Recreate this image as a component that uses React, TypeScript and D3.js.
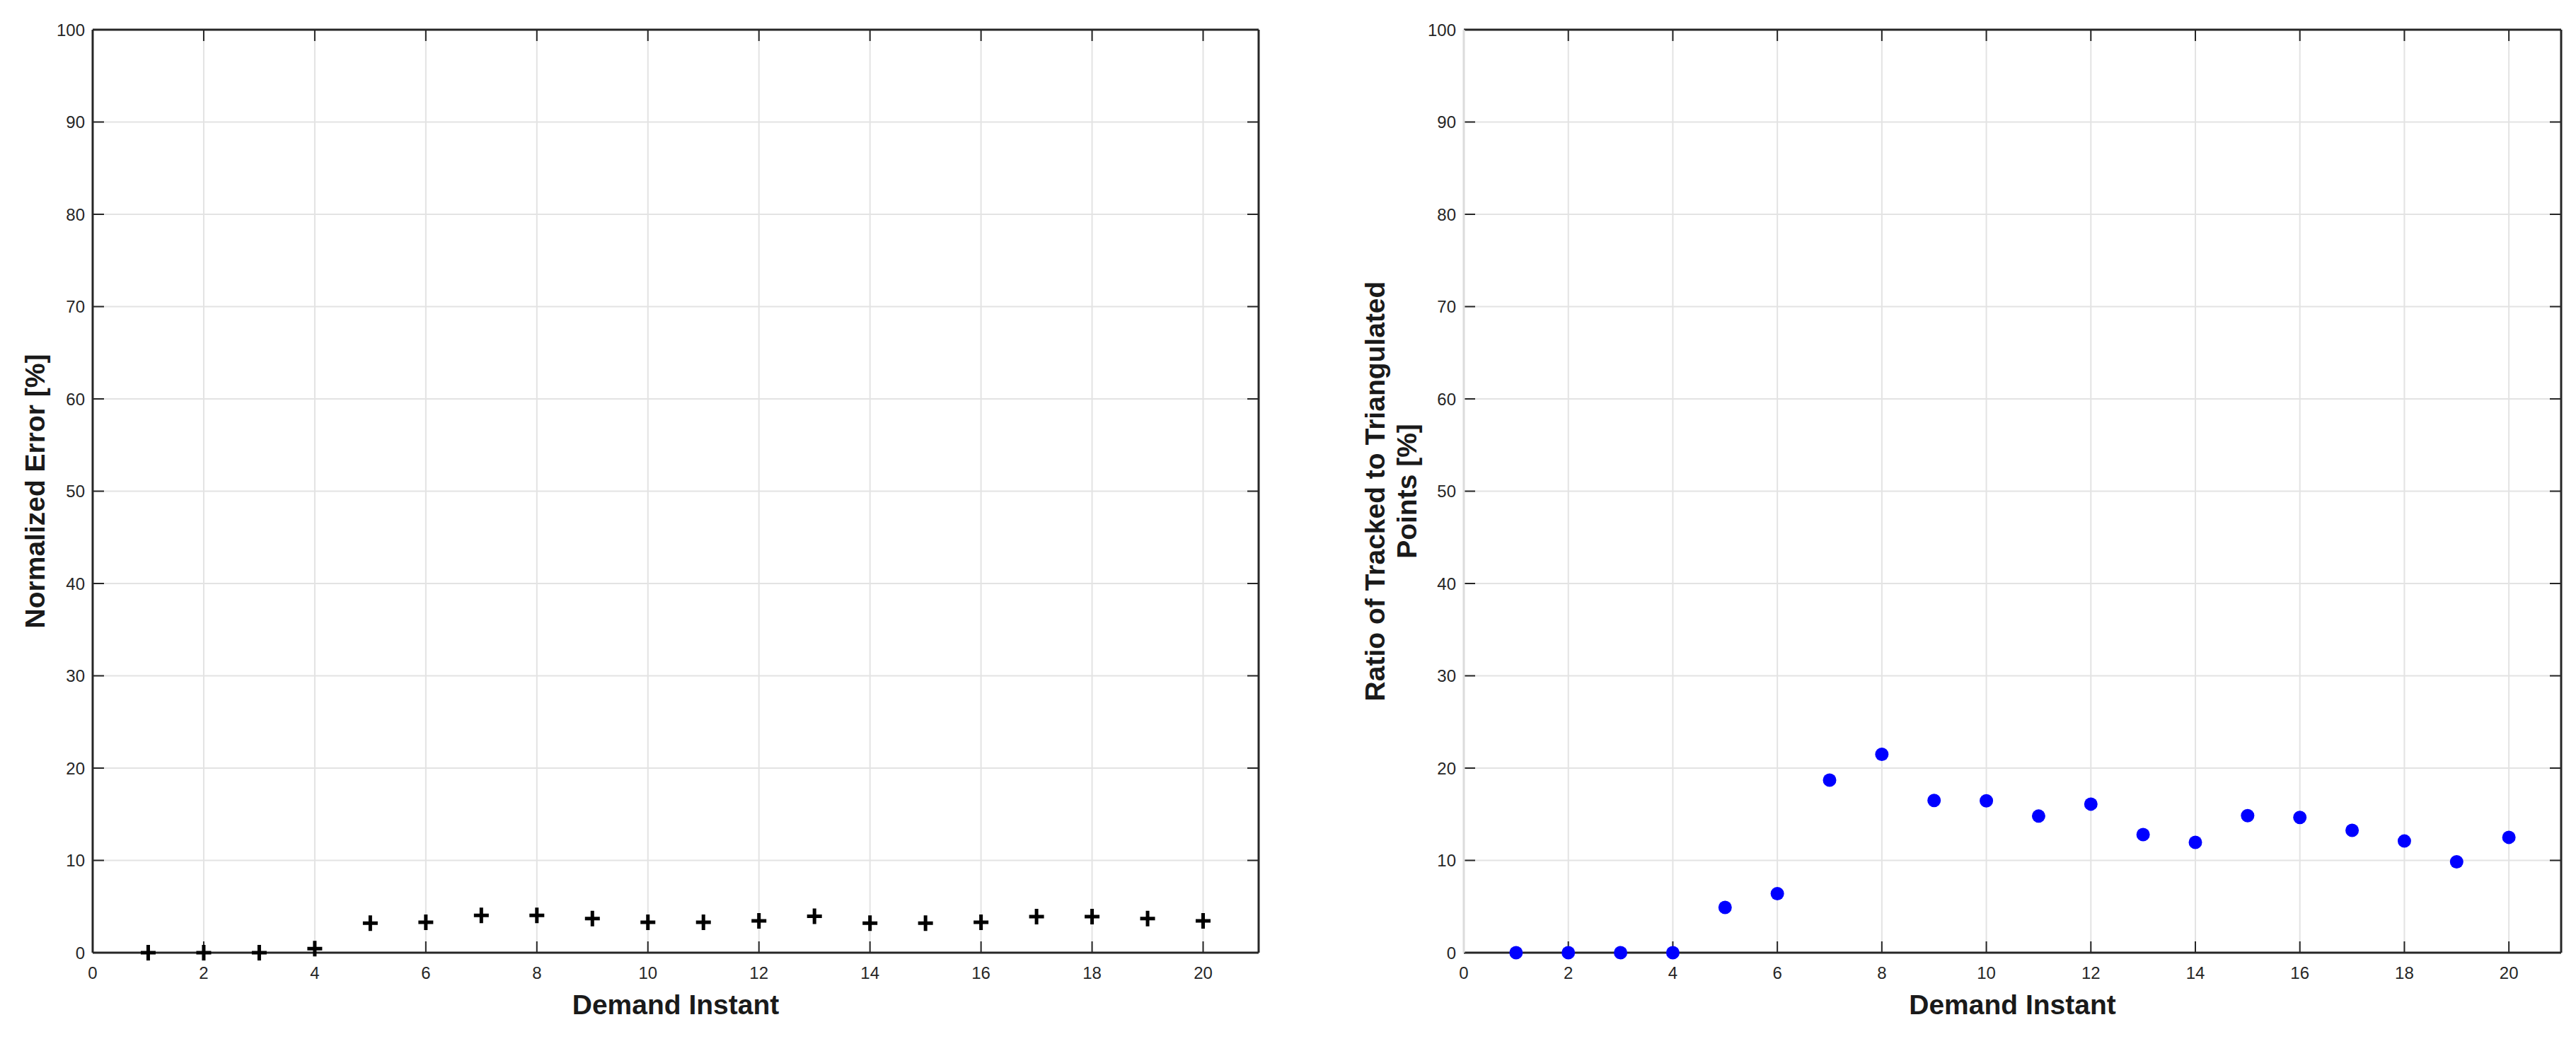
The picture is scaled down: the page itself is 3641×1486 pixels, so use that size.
import React from "react";
import * as d3 from "d3";

// demand instants 1..20
const instants = [1, 2, 3, 4, 5, 6, 7, 8, 9, 10, 11, 12, 13, 14, 15, 16, 17, 18, 19, 20];

// normalized error [%] (left panel, black plus markers)
const normalizedError = [0, 0, 0, 0.45, 3.2, 3.3, 4.05, 4.05, 3.7, 3.3, 3.3, 3.45, 3.95, 3.2, 3.2, 3.3, 3.9, 3.9, 3.7, 3.45];

// ratio of tracked to triangulated points [%] (right panel, blue dots)
const trackedRatio = [0, 0, 0, 0, 4.9, 6.4, 18.7, 21.5, 16.5, 16.45, 14.8, 16.1, 12.8, 11.95, 14.85, 14.65, 13.25, 12.1, 9.85, 12.5];

const xTicks = [0, 2, 4, 6, 8, 10, 12, 14, 16, 18, 20];
const yTicks = [0, 10, 20, 30, 40, 50, 60, 70, 80, 90, 100];

const W = 3641;
const H = 1486;
const TOP = 42;
const BOTTOM = 1347;
const FONT = "'Liberation Sans', Arial, Helvetica, sans-serif";
const AXIS = "#262626";
const GRID = "#e3e3e3";
const TICK_LEN = 16;

type PanelProps = {
  x0: number;
  x1: number;
  values: number[];
  marker: "plus" | "dot";
  yLabel: string[];
  yLabelX: number;
  leftAxisColor: string;
};

const Panel = ({ x0, x1, values, marker, yLabel, yLabelX, leftAxisColor }: PanelProps) => {
  const x = d3.scaleLinear().domain([0, 21]).range([x0, x1]);
  const y = d3.scaleLinear().domain([0, 100]).range([BOTTOM, TOP]);
  const cy = (TOP + BOTTOM) / 2;
  const cx = (x0 + x1) / 2;

  return (
    <g>
      {/* grid */}
      {xTicks.map((t) => (
        <line key={"gx" + t} x1={x(t)} x2={x(t)} y1={TOP} y2={BOTTOM} stroke={GRID} strokeWidth={2} />
      ))}
      {yTicks.map((t) => (
        <line key={"gy" + t} x1={x0} x2={x1} y1={y(t)} y2={y(t)} stroke={GRID} strokeWidth={2} />
      ))}

      {/* tick marks, inward on all four sides */}
      {xTicks.map((t) => (
        <g key={"tx" + t} stroke={AXIS} strokeWidth={2}>
          <line x1={x(t)} x2={x(t)} y1={BOTTOM} y2={BOTTOM - TICK_LEN} />
          <line x1={x(t)} x2={x(t)} y1={TOP} y2={TOP + TICK_LEN} />
        </g>
      ))}
      {yTicks.map((t) => (
        <g key={"ty" + t} stroke={AXIS} strokeWidth={2}>
          <line x1={x0} x2={x0 + TICK_LEN} y1={y(t)} y2={y(t)} />
          <line x1={x1} x2={x1 - TICK_LEN} y1={y(t)} y2={y(t)} />
        </g>
      ))}

      {/* box */}
      <line x1={x0} x2={x1} y1={TOP} y2={TOP} stroke={AXIS} strokeWidth={3} />
      <line x1={x0} x2={x1} y1={BOTTOM} y2={BOTTOM} stroke={AXIS} strokeWidth={3} />
      <line x1={x1} x2={x1} y1={TOP} y2={BOTTOM} stroke={AXIS} strokeWidth={3} />
      <line x1={x0} x2={x0} y1={TOP} y2={BOTTOM} stroke={leftAxisColor} strokeWidth={3} />

      {/* tick labels */}
      {xTicks.map((t) => (
        <text key={"lx" + t} x={x(t)} y={1384} textAnchor="middle" fontFamily={FONT} fontSize={24} fill={AXIS}>
          {t}
        </text>
      ))}
      {yTicks.map((t) => (
        <text key={"ly" + t} x={x0 - 11} y={y(t) + 8.5} textAnchor="end" fontFamily={FONT} fontSize={24} fill={AXIS}>
          {t}
        </text>
      ))}

      {/* axis labels */}
      <text x={cx} y={1434} textAnchor="middle" fontFamily={FONT} fontSize={39} fontWeight="bold" fill="#1a1a1a">
        Demand Instant
      </text>
      <text
        transform={`translate(${yLabelX},${cy}) rotate(-90)`}
        textAnchor="middle"
        fontFamily={FONT}
        fontSize={39}
        fontWeight="bold"
        fill="#1a1a1a"
      >
        {yLabel.map((s, i) => (
          <tspan key={i} x={0} dy={i === 0 ? 0 : 45}>
            {s}
          </tspan>
        ))}
      </text>

      {/* data */}
      {values.map((v, i) =>
        marker === "plus" ? (
          <path
            key={i}
            d={`M${x(instants[i]) - 10.5},${y(v)}H${x(instants[i]) + 10.5}M${x(instants[i])},${y(v) - 11}V${y(v) + 11}`}
            stroke="#000"
            strokeWidth={5}
            fill="none"
          />
        ) : (
          <circle key={i} cx={x(instants[i])} cy={y(v)} r={9.5} fill="#0000ff" />
        )
      )}
    </g>
  );
};

export default function App() {
  return (
    <svg width={W} height={H} style={{ position: "absolute", left: 0, top: 0, background: "#fff" }}>
      <rect width={W} height={H} fill="#fff" />
      <Panel
        x0={131}
        x1={1779}
        values={normalizedError}
        marker="plus"
        yLabel={["Normalized Error [%]"]}
        yLabelX={63}
        leftAxisColor={AXIS}
      />
      <Panel
        x0={2069}
        x1={3620}
        values={trackedRatio}
        marker="dot"
        yLabel={["Ratio of Tracked to Triangulated", "Points [%]"]}
        yLabelX={1957}
        leftAxisColor="#dcdcdc"
      />
    </svg>
  );
}
